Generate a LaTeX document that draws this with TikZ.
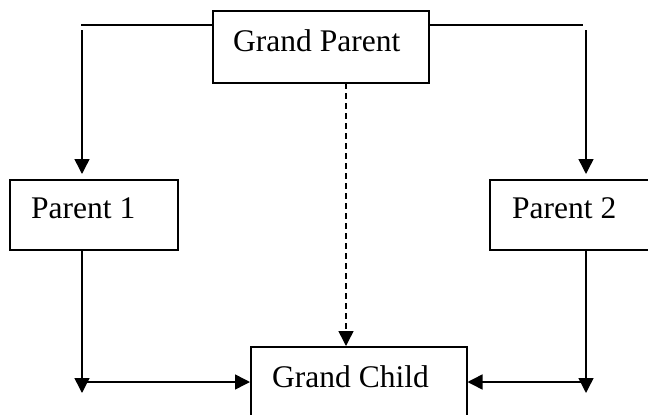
\documentclass[tikz,border=0pt]{standalone}
\usepackage{fontspec}
\setmainfont{Liberation Serif}
\usetikzlibrary{arrows.meta}
\begin{document}
\begin{tikzpicture}[x=1pt,y=-1pt,
  box/.style={draw,line width=1.5pt,inner sep=0pt,anchor=north west},
  lbl/.style={anchor=base west,inner sep=0pt,font=\fontsize{31.5}{36}\selectfont},
  conn/.style={line width=1.5pt},
  arr/.style={line width=1.5pt,-{Triangle[length=15pt,width=15pt]}}]
\clip (0,0) rectangle (648,415);
\fill[white] (0,0) rectangle (648,415);
% boxes
\node[box,minimum width=216pt,minimum height=72pt] (GP) at (212,10) {};
\node[box,minimum width=168pt,minimum height=70pt] (P1) at (9,179) {};
\node[box,minimum width=175pt,minimum height=70pt] (P2) at (489,179) {};
\node[box,minimum width=216pt,minimum height=90pt] (GC) at (250,346) {};
% labels
\node[lbl] (tGP) at (233,51) {Grand Parent};
\node[lbl] (tP1) at (31,218) {Parent 1};
\node[lbl] (tP2) at (512,218) {Parent 2};
\node[lbl] (tGC) at (272,387) {Grand Child};
% coordinates
\coordinate (lh) at (81,25);
\coordinate (rh) at (583,25);
\coordinate (lv) at (82,30);
\coordinate (rv) at (586,30);
\coordinate (lb) at (82,393);
\coordinate (rb) at (586,393);
\coordinate (lm) at (82,382);
\coordinate (rm) at (586,382);
\coordinate (dtop) at (346,83);
% top connectors
\draw[conn] (GP.west |- lh) -- (lh);
\draw[conn] (GP.east |- rh) -- (rh);
\draw[arr,shorten >=5pt] (lv) -- (lv |- P1.north);
\draw[arr,shorten >=5pt] (rv) -- (rv |- P2.north);
% dashed
\draw[arr,dash pattern=on 6pt off 4pt] (dtop) -- (dtop |- GC.north);
% bottom
\draw[arr] (lv |- P1.south) -- (lb);
\draw[arr] (rv |- P2.south) -- (rb);
\draw[arr] (lm) -- (GC.west |- lm);
\draw[arr] (rm) -- (GC.east |- rm);
\end{tikzpicture}
\end{document}
